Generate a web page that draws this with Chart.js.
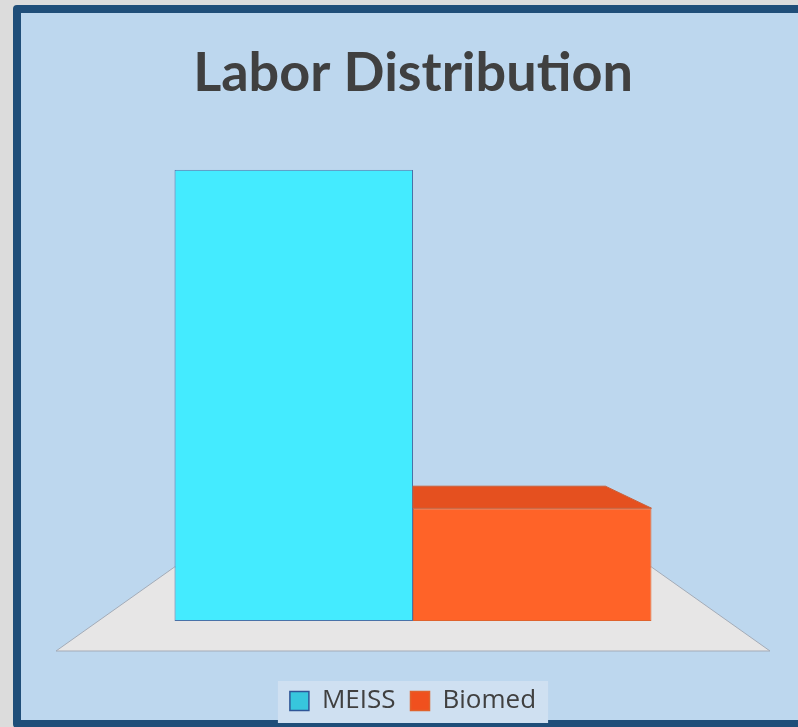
<!DOCTYPE html>
<html>
<head>
<meta charset="utf-8">
<script src="https://cdn.jsdelivr.net/npm/chart.js@4"></script>
<style>
  html, body { margin: 0; padding: 0; background: #dcdcdc; overflow: hidden; }
  #frame {
    position: absolute; left: 13px; top: 5px; width: 800px; height: 707px;
    background: #bdd7ee; border: 8px solid #1f4e79; border-radius: 4px;
  }
  #wrap { position: absolute; left: 0; top: 0; width: 798px; height: 727px; }
</style>
</head>
<body>
<div id="frame"></div>
<div id="wrap"><canvas id="chart" width="798" height="727"></canvas></div>
<script>
// Data
const categories = ['Labor'];
const seriesNames = ['MEISS', 'Biomed'];
const meissValues = [80];
const biomedValues = [20];

// Colours
const meissColor = '#44ebff';
const biomedColor = '#ff6328';
const biomedTop = '#e5501f';
const legendFills = ['#37c6dd', '#f0501e'];
const legendStrokes = ['#2f5597', '#e0622c'];

// Floor under the bars + 3D top face of the short bar
const floorPlugin = {
  id: 'floor',
  beforeDatasetsDraw(chart) {
    const ctx = chart.ctx;
    const area = chart.chartArea;
    const first = chart.getDatasetMeta(0).data[0];
    const last = chart.getDatasetMeta(1).data[0];
    const left = first.x - first.width / 2;
    const right = last.x + last.width / 2;
    const base = first.base;
    ctx.save();
    ctx.fillStyle = '#e7e6e6';
    ctx.strokeStyle = '#a3abb7';
    ctx.lineWidth = 1;
    ctx.beginPath();
    ctx.moveTo(left, base - 54);
    ctx.lineTo(right, base - 54);
    ctx.lineTo(area.right, base + 30);
    ctx.lineTo(area.left, base + 30);
    ctx.closePath();
    ctx.fill();
    ctx.stroke();
    ctx.restore();
  },
  afterDatasetsDraw(chart) {
    const ctx = chart.ctx;
    const bar = chart.getDatasetMeta(1).data[0];
    const l = bar.x - bar.width / 2;
    const r = bar.x + bar.width / 2;
    ctx.save();
    ctx.fillStyle = biomedTop;
    ctx.strokeStyle = '#c8603a';
    ctx.lineWidth = 1;
    ctx.beginPath();
    ctx.moveTo(l, bar.y);
    ctx.lineTo(l, bar.y - 22);
    ctx.lineTo(r - 46, bar.y - 22);
    ctx.lineTo(r, bar.y);
    ctx.closePath();
    ctx.fill();
    ctx.stroke();
    ctx.restore();
  }
};

// Lighter box behind the legend
const legendBack = {
  id: 'legendBack',
  beforeDraw(chart) {
    const boxes = chart.legend.legendHitBoxes;
    if (!boxes || !boxes.length) return;
    const ctx = chart.ctx;
    const x0 = boxes[0].left - 12;
    const x1 = boxes[boxes.length - 1].left + boxes[boxes.length - 1].width + 12;
    const mid = boxes[0].top + boxes[0].height / 2;
    ctx.save();
    ctx.fillStyle = '#cfe0f1';
    ctx.fillRect(x0, mid - 20, x1 - x0, 42);
    ctx.restore();
  }
};

new Chart(document.getElementById('chart'), {
  type: 'bar',
  data: {
    labels: categories,
    datasets: [
      {
        label: seriesNames[0],
        data: meissValues,
        backgroundColor: meissColor,
        borderColor: '#4a72a8',
        borderWidth: 1,
        borderSkipped: false
      },
      {
        label: seriesNames[1],
        data: biomedValues,
        backgroundColor: biomedColor,
        borderColor: '#e0622c',
        borderWidth: 1,
        borderSkipped: false
      }
    ]
  },
  options: {
    responsive: false,
    animation: false,
    layout: { padding: { left: 56, right: 28, top: 0, bottom: 3 } },
    datasets: {
      bar: { categoryPercentage: 0.668, barPercentage: 1 }
    },
    scales: {
      x: {
        display: true,
        grid: { display: false },
        border: { display: false },
        ticks: { display: false },
        afterFit: (scale) => { scale.height = 52; }
      },
      y: { display: false, min: 0, max: 80 }
    },
    plugins: {
      title: {
        display: true,
        text: 'Labor Distribution',
        color: '#404040',
        font: { family: 'Lato', size: 54, weight: 'bold', lineHeight: 1.2 },
        padding: { top: 41, bottom: 64 }
      },
      legend: {
        position: 'bottom',
        labels: {
          color: '#404040',
          font: { family: 'Open Sans', size: 26 },
          boxWidth: 19,
          boxHeight: 19,
          padding: 15,
          generateLabels: (chart) => {
            const items = Chart.defaults.plugins.legend.labels.generateLabels(chart);
            items.forEach((it, i) => {
              it.fillStyle = legendFills[i];
              it.strokeStyle = legendStrokes[i];
              it.lineWidth = 1.5;
            });
            return items;
          }
        }
      },
      tooltip: { enabled: false }
    }
  },
  plugins: [floorPlugin, legendBack]
});
</script>
</body>
</html>
